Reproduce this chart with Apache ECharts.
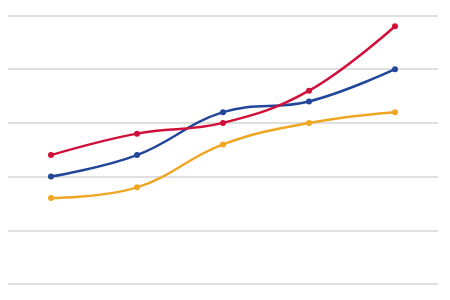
<!DOCTYPE html>
<html><head><meta charset="utf-8">
<script src="https://cdn.jsdelivr.net/npm/echarts@6/dist/echarts.min.js"></script>
<style>html,body{margin:0;padding:0;background:#fff}#c{width:450px;height:300px}</style>
</head><body><div id="c"></div>
<script>
const categories = ['1', '2', '3', '4', '5'];
const redValues = [48, 56, 60, 72, 96];
const blueValues = [40, 48, 64, 68, 80];
const orangeValues = [32, 36, 52, 60, 64];

const chart = echarts.init(document.getElementById('c'), null, {renderer: 'canvas'});
function mk(name, data, color) {
  return {
    name, type: 'line', data, smooth: 0.4,
    symbol: 'circle', symbolSize: 6, showSymbol: true,
    lineStyle: {color, width: 2.5}, itemStyle: {color},
    animation: false
  };
}
chart.setOption({
  animation: false,
  grid: {left: 8, right: 12, top: 15.5, bottom: 16, containLabel: false},
  xAxis: {type: 'category', data: categories, boundaryGap: true,
    axisLine: {show: false}, axisTick: {show: false}, axisLabel: {show: false}},
  yAxis: {type: 'value', min: 0, max: 100, interval: 20,
    axisLine: {show: false}, axisTick: {show: false}, axisLabel: {show: false},
    splitLine: {lineStyle: {color: '#d4d4d4', width: 1.5}}},
  series: [
    mk('Orange', orangeValues, '#eea623'),
    mk('Blue', blueValues, '#22469a'),
    mk('Red', redValues, '#d0103a')
  ]
});
</script></body></html>
